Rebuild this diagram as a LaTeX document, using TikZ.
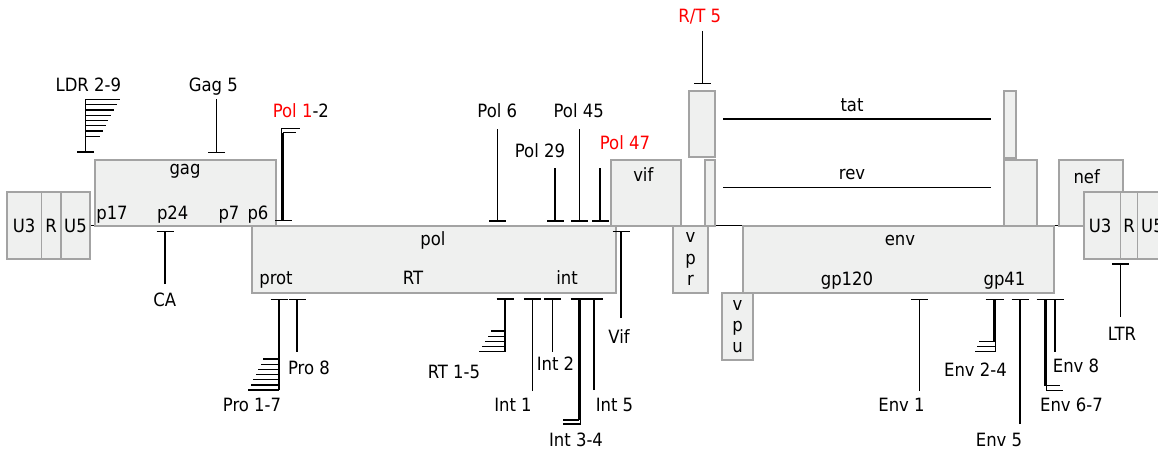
\documentclass[tikz,border=0pt]{standalone}
\usepackage{fontspec}
\setmainfont{DejaVu Sans Condensed}
\usetikzlibrary{arrows.meta}

\definecolor{boxfill}{HTML}{EFF0EF}
\definecolor{boxline}{HTML}{A3A3A3}
\definecolor{hl}{HTML}{FF0000}

\pgfdeclarelayer{background}
\pgfsetlayers{background,main}

\newcommand\lblfont{\fontsize{18.3}{21}\selectfont}

\tikzset{
  gene/.style={draw=boxline, fill=boxfill, line width=1.4pt, inner sep=0pt,
               outer sep=0pt, anchor=north west},
  lbl/.style={inner sep=0pt, anchor=base, font=\lblfont},
  epi/.style={line width=1.3pt, -{Bar[width=17pt]}},
  stackline/.style={line width=1.3pt},
  backbone/.style={line width=1pt, black},
}

% gene box: name, x1, y1, x2, y2 (top-left and bottom-right corners)
\newcommand\genebox[5]{%
  \node[gene, minimum width={#4pt-#2pt}, minimum height={#5pt-#3pt}] (#1) at (#2,#3) {};}
% epitope marker: name, x, free end y, tick y
\newcommand\epitope[4]{%
  \coordinate (#1-end) at (#2,#3);
  \coordinate (#1-tick) at (#2,#4);
  \draw[epi] (#1-end) -- (#1-tick);}

\begin{document}
\begin{tikzpicture}[x=1pt,y=-1pt]
\useasboundingbox (0,0) rectangle (1158,454);
\clip (0,0) rectangle (1158,454);

% ---- genome boxes ----
\genebox{ltrLu3}{7}{192}{41.5}{259}
\genebox{ltrLr}{41.5}{192}{61}{259}
\genebox{ltrLu5}{61}{192}{90}{259}
\genebox{gag}{95}{160}{276}{226}
\genebox{pol}{252}{226}{616}{293}
\genebox{vif}{611}{160}{681}{226}
\genebox{vpr}{673}{226}{708}{293}
\genebox{tatA}{689}{91}{715}{157}
\genebox{revA}{705}{160}{715}{226}
\genebox{vpu}{722}{293}{753}{360}
\genebox{env}{743}{226}{1054}{293}
\genebox{tatB}{1004}{91}{1016}{158}
\genebox{revB}{1004}{160}{1037}{226}
\genebox{nef}{1059}{160}{1123}{226}
\genebox{ltrRu3}{1084}{192}{1120.7}{259}
\genebox{ltrRr}{1120.7}{192}{1137.3}{259}
\genebox{ltrRu5}{1137.3}{192}{1167}{259}

\begin{pgfonlayer}{background}
  \draw[backbone] (ltrLu5.east) -- (ltrRu3.west);
\end{pgfonlayer}

% ---- texts inside the boxes ----
\node[lbl] (t-u3l) at (24.2,232.3) {U3};
\node[lbl] (t-rl) at (51,232.3) {R};
\node[lbl] (t-u5l) at (75.5,232.3) {U5};
\node[lbl] (t-gag) at (185,175) {gag};
\node[lbl] (t-p17) at (112,219.3) {p17};
\node[lbl] (t-p24) at (172.7,219.3) {p24};
\node[lbl] (t-p7) at (229,219.3) {p7};
\node[lbl] (t-p6) at (258,219.3) {p6};
\node[lbl] (t-pol) at (433,246) {pol};
\node[lbl] (t-prot) at (276,284) {prot};
\node[lbl] (t-rt) at (413,284) {RT};
\node[lbl] (t-int) at (567,284) {int};
\node[lbl] (t-vif) at (643.3,181.7) {vif};
\node[lbl] (t-vpr1) at (690.5,242.7) {v};
\node[lbl] (t-vpr2) at (690.5,264) {p};
\node[lbl] (t-vpr3) at (690.5,285.7) {r};
\node[lbl] (t-vpu1) at (737.5,310) {v};
\node[lbl] (t-vpu2) at (737.5,331.3) {p};
\node[lbl] (t-vpu3) at (737.5,352.7) {u};
\node[lbl] (t-env) at (900,246) {env};
\node[lbl] (t-gp120) at (847,285) {gp120};
\node[lbl] (t-gp41) at (1004.5,285) {gp41};
\node[lbl] (t-nef) at (1086.7,183.3) {nef};
\node[lbl] (t-u3r) at (1100,232.7) {U3};
\node[lbl] (t-rr) at (1129,232.7) {R};
\node[lbl, anchor=base west] (t-u5r) at (1141,232.7) {U5};

% ---- tat and rev ----
\node[lbl] (t-tat) at (852,112) {tat};
\node[lbl] (t-rev) at (852,180) {rev};
\coordinate (tat-l) at (723.3,119);
\coordinate (tat-r) at (990.7,119);
\coordinate (rev-l) at (723.3,187.7);
\coordinate (rev-r) at (990.7,187.7);
\draw[stackline] (tat-l) -- (tat-r);
\draw[stackline] (rev-l) -- (rev-r);

% ---- epitopes above the genome ----
\node[lbl] (l-ldr) at (88.3,91.7) {LDR 2-9};
\epitope{ldr}{85.7}{99.3}{152.7}
\foreach \i in {0,...,7}
  \draw[stackline] (85.7,99.3+5.3*\i) -- (120-2.9*\i,99.3+5.3*\i);

\node[lbl] (l-gag5) at (213.3,91.7) {Gag 5};
\epitope{gag5}{216.7}{99.3}{153.3}

\node[lbl, anchor=base west] (l-pol12) at (272.7,118) {\textcolor{hl}{Pol 1}-2};
\draw[line width=1.3pt, -{Bar[width=12pt]}] (281.5,128.3) -- (281.5,221);
\epitope{pol2}{283}{132.7}{221}
\draw[stackline] (281.5,128.3) -- (300,128.3);
\draw[stackline] (283,132.7) -- (295.7,132.7);

\node[lbl] (l-pol6) at (497.3,117.7) {Pol 6};
\epitope{pol6}{497.3}{129.3}{221.7}
\node[lbl] (l-pol29) at (540,157.3) {Pol 29};
\epitope{pol29}{555}{168.3}{221.7}
\node[lbl] (l-pol45) at (578.7,117.7) {Pol 45};
\epitope{pol45}{579.3}{129.3}{221.7}
\node[lbl, text=hl] (l-pol47) at (625,150) {Pol 47};
\epitope{pol47}{600}{168.3}{221.7}

\node[lbl, text=hl] (l-rt5) at (699.7,22.7) {R/T 5};
\epitope{rt5}{702.3}{31}{84.3}

% ---- epitopes below the genome ----
\node[lbl] (l-ca) at (164.7,306.7) {CA};
\epitope{ca}{165}{284}{230.7}

\node[lbl] (l-pro17) at (252,411.5) {Pro 1-7};
\epitope{pro17}{279}{390}{298.7}
\foreach \i in {0,...,6}
  \draw[stackline] (279,359+5.17*\i) -- (263-2.5*\i,359+5.17*\i);
\node[lbl] (l-pro8) at (309,374) {Pro 8};
\epitope{pro8}{297}{351.7}{298.7}

\node[lbl] (l-rt15) at (454,378.3) {RT 1-5};
\epitope{rt15}{505}{351.7}{298.3}
\foreach \i in {0,...,4}
  \draw[stackline] (505,331+5.17*\i) -- (491-2.9*\i,331+5.17*\i);

\node[lbl] (l-int1) at (513,411.7) {Int 1};
\epitope{int1}{532.3}{391}{298.3}
\node[lbl] (l-int2) at (555.5,370.7) {Int 2};
\epitope{int2}{552.7}{351.7}{298.3}
\node[lbl] (l-int34) at (576,446.7) {Int 3-4};
\epitope{int3}{579}{420}{298.3}
\epitope{int4}{580.8}{424}{298.3}
\draw[stackline] (579,420) -- (562.7,420);
\draw[stackline] (580.8,424) -- (562.7,424);
\node[lbl] (l-int5) at (614.5,411.7) {Int 5};
\epitope{int5}{594}{390}{298.3}

\node[lbl] (l-vif) at (619,343.3) {Vif};
\epitope{vif}{621}{318}{230.7}

\node[lbl] (l-env1) at (901.5,411.7) {Env 1};
\epitope{env1}{919.3}{391}{298.7}
\node[lbl] (l-env24) at (975.5,376.7) {Env 2-4};
\epitope{env2}{994}{341.7}{298.7}
\epitope{env34}{995.8}{351.7}{298.7}
\draw[stackline] (995.8,341.7) -- (979.3,341.7);
\draw[stackline] (995.8,346.7) -- (977.3,346.7);
\draw[stackline] (995.8,351.7) -- (975,351.7);
\node[lbl] (l-env5) at (999,446.7) {Env 5};
\epitope{env5}{1020}{424}{298.7}
\node[lbl] (l-env67) at (1071.5,411.7) {Env 6-7};
\epitope{env6}{1045}{385.7}{298.7}
\epitope{env7}{1046.8}{390.7}{298.7}
\draw[stackline] (1045,385.7) -- (1060,385.7);
\draw[stackline] (1046.8,390.7) -- (1063.3,390.7);
\node[lbl] (l-env8) at (1076,372.7) {Env 8};
\epitope{env8}{1055}{351.7}{298.7}

\node[lbl] (l-ltr) at (1122,340.7) {LTR};
\epitope{ltr}{1120.7}{316.7}{263.3}
\end{tikzpicture}
\end{document}
